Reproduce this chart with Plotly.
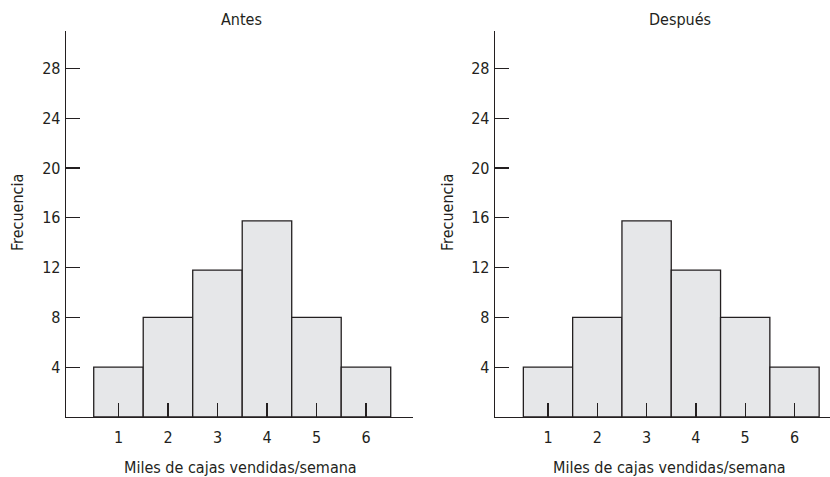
import plotly.graph_objects as go

categories = [1, 2, 3, 4, 5, 6]
antes = [4, 8, 11.8, 15.75, 8, 4]
despues = [4, 8, 15.75, 11.8, 8, 4]
y_ticks = [4, 8, 12, 16, 20, 24, 28]
panel_titles = ["Antes", "Después"]
x_title = "Miles de cajas vendidas/semana"
y_title = "Frecuencia"

W, H = 830, 477
FONT = "DejaVu Sans Condensed, Liberation Sans Narrow, Roboto, sans-serif"
INK = "#231f20"
FILL = "#e6e7e9"
FS = 16

fig = go.Figure()
for i, vals in enumerate([antes, despues]):
    fig.add_trace(go.Bar(
        x=categories, y=vals, width=1,
        marker=dict(color=FILL, line=dict(color=INK, width=1.3)),
        xaxis="x" if i == 0 else "x2", yaxis="y" if i == 0 else "y2",
        showlegend=False, hoverinfo="skip"))

y_dom = [60 / H, 446 / H]
x_doms = [[66 / W, 413 / W], [495 / W, 1.0]]
x_ranges = [[-0.06, 6.95], [-0.075, 6.72]]

common_x = dict(showline=True, linecolor=INK, linewidth=1.3, ticks="inside", ticklen=14,
                tickwidth=1.3, tickcolor=INK, tickvals=categories, showgrid=False, zeroline=False,
                ticklabelstandoff=5,
                tickfont=dict(family=FONT, size=FS, color=INK), fixedrange=True)
common_y = dict(showline=True, linecolor=INK, linewidth=1.3, ticks="inside", ticklen=14,
                tickwidth=1.3, tickcolor=INK, tickvals=y_ticks, showgrid=False, zeroline=False,
                range=[0, 31], domain=y_dom, ticklabelstandoff=1,
                tickfont=dict(family=FONT, size=FS, color=INK), fixedrange=True)

fig.update_layout(
    width=W, height=H, margin=dict(l=0, r=0, t=0, b=0),
    paper_bgcolor="white", plot_bgcolor="white", bargap=0,
    xaxis=dict(domain=x_doms[0], range=x_ranges[0], anchor="y", **common_x),
    xaxis2=dict(domain=x_doms[1], range=x_ranges[1], anchor="y2", **common_x),
    yaxis=dict(anchor="x", **common_y),
    yaxis2=dict(anchor="x2", **common_y),
)

ann = []
centers = [240.5, 669]
title_centers = [241.5, 680]
yt_x = [17, 447]
for i in range(2):
    ann.append(dict(text=panel_titles[i], x=title_centers[i] / W, y=1 - 19 / H, xref="paper", yref="paper",
                    showarrow=False, xanchor="center", yanchor="middle",
                    font=dict(family=FONT, size=FS, color=INK)))
    ann.append(dict(text=x_title, x=centers[i] / W, y=1 - 467 / H, xref="paper", yref="paper",
                    showarrow=False, xanchor="center", yanchor="middle",
                    font=dict(family=FONT, size=FS, color=INK)))
    ann.append(dict(text=y_title, x=yt_x[i] / W, y=1 - 213 / H, xref="paper", yref="paper",
                    showarrow=False, xanchor="center", yanchor="middle", textangle=-90,
                    font=dict(family=FONT, size=FS, color=INK)))
fig.update_layout(annotations=ann)

fig.write_html("out.html", config={"displayModeBar": False, "staticPlot": True},
               post_script="document.body.style.margin='0';document.body.style.padding='0';")
